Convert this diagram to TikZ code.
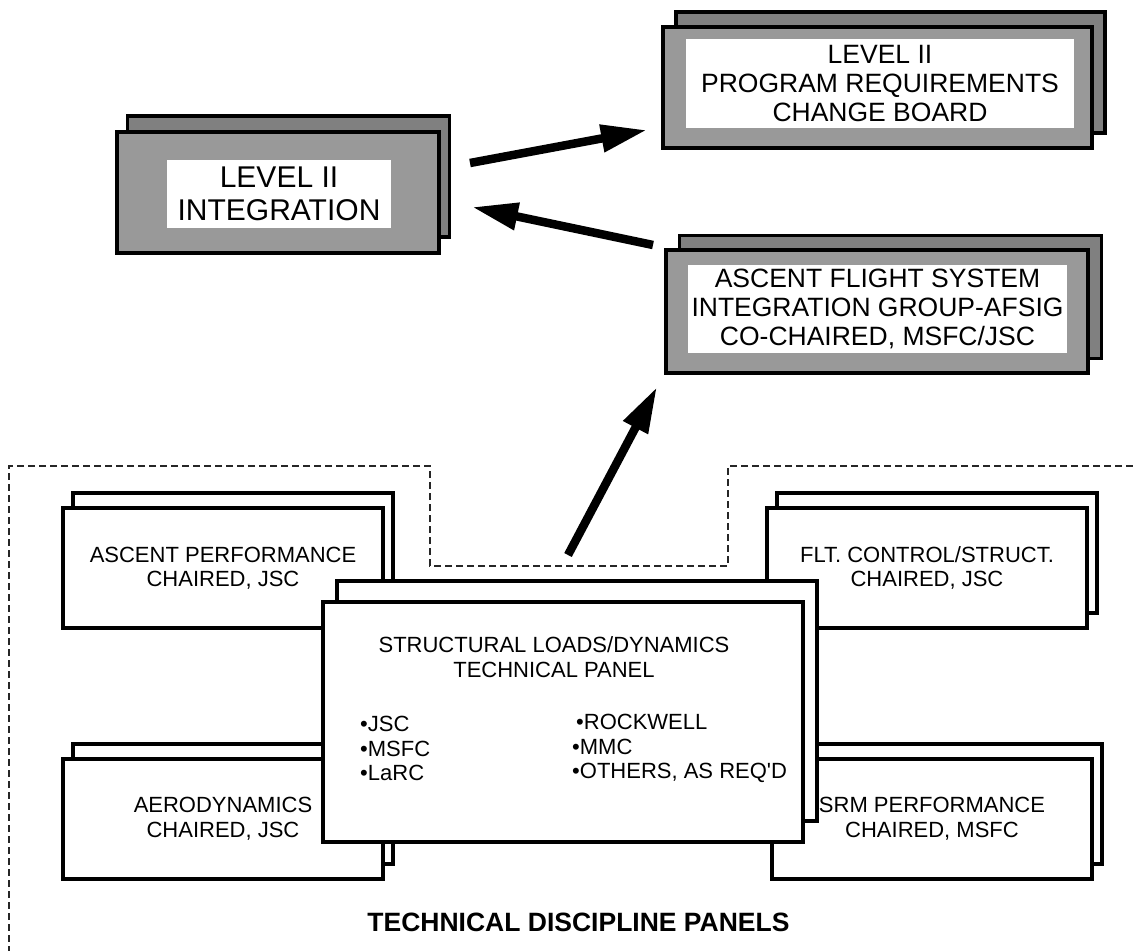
\documentclass[tikz,border=0pt]{standalone}
\usepackage{fontspec}
\setmainfont{Liberation Sans}
\usetikzlibrary{arrows.meta}
\definecolor{facegray}{gray}{0.6}
\definecolor{backgray}{gray}{0.5}
\tikzset{
  board/.style={draw,line width=3.5pt,fill=facegray,inner sep=0pt},
  boardback/.style={board,fill=backgray},
  boardlabel/.style={fill=white,inner sep=0pt,align=center},
  panel/.style={draw,line width=4pt,fill=white,inner sep=0pt,align=center,
    minimum width=320pt,minimum height=120pt,font=\fontsize{22}{24.5}\selectfont},
  flow/.style={line width=8.5pt,-{Triangle[length=46pt,width=26pt]}}
}
\begin{document}
\begin{tikzpicture}[x=1pt,y=-1pt]
\useasboundingbox (0,0) rectangle (1133,951);
\draw[black!85,line width=1.2pt,dash pattern=on 7pt off 4pt]
  (1133,466) -- (728,466) -- (728,566) -- (430,566) -- (430,466) -- (9,466) -- (9,951);
% level II boards
\node[boardback,minimum width=322pt,minimum height=121pt] (integ-back) at (288.5,176.5) {};
\node[board,minimum width=322pt,minimum height=121pt] (integ) at (278,192.5) {};
\node[boardlabel,minimum width=224pt,minimum height=68pt,font=\fontsize{30}{32.5}\selectfont]
  (integ-label) at (279,194) {LEVEL II\\INTEGRATION};
\node[boardback,minimum width=429pt,minimum height=121pt] (prcb-back) at (890.5,72.5) {};
\node[board,minimum width=429pt,minimum height=121pt] (prcb) at (877.5,87.5) {};
\node[boardlabel,minimum width=388pt,minimum height=89pt,font=\fontsize{26.5}{29}\selectfont]
  (prcb-label) at (880,83.5) {LEVEL II\\PROGRAM REQUIREMENTS\\CHANGE BOARD};
\node[boardback,minimum width=422pt,minimum height=123pt] (afsig-back) at (890.5,297) {};
\node[board,minimum width=422pt,minimum height=123pt] (afsig) at (877,311.5) {};
\node[boardlabel,minimum width=379pt,minimum height=88pt,font=\fontsize{26.5}{29}\selectfont]
  (afsig-label) at (877.5,309) {ASCENT FLIGHT SYSTEM\\INTEGRATION GROUP-AFSIG\\CO-CHAIRED, MSFC/JSC};
% discipline panels
\foreach \name/\cx/\cy/\txt in {
  ascent/223/568/{ASCENT PERFORMANCE\\CHAIRED, JSC},
  flt/927/568/{FLT. CONTROL/STRUCT.\\CHAIRED, JSC},
  aero/223/818.5/{AERODYNAMICS\\CHAIRED, JSC},
  srm/932/818.5/{SRM PERFORMANCE\\CHAIRED, MSFC}}{
  \node[panel] (\name-back) at (\cx+10,\cy-15) {};
  \node[panel] (\name) at (\cx,\cy) {\txt};
}
\node[panel,minimum width=480pt,minimum height=240pt] (struct-back) at (577,701) {};
\node[panel,minimum width=480pt,minimum height=240pt] (struct) at (563,722) {};
\node[align=center,font=\fontsize{22}{25}\selectfont] (struct-title) at (554,657.5)
  {STRUCTURAL LOADS/DYNAMICS\\TECHNICAL PANEL};
\node[anchor=west,align=left,inner sep=0pt,font=\fontsize{22}{24.5}\selectfont] (struct-centers)
  at (360,748.5) {•JSC\\•MSFC\\•LaRC};
\node[anchor=west,align=left,inner sep=0pt,font=\fontsize{22}{24.5}\selectfont] (struct-firms)
  at (572,748.5) {\hspace*{4pt}•ROCKWELL\\•MMC\\•OTHERS, AS REQ\textquotesingle D};
\node[font=\bfseries\fontsize{26.5}{28}\selectfont] (panels-title) at (578.5,922)
  {TECHNICAL DISCIPLINE PANELS};
% flow arrows
\coordinate (toprcb-tail) at (470,163);
\coordinate (toprcb-tip) at (647,130);
\coordinate (tointeg-tail) at (653,245);
\coordinate (tointeg-tip) at (472,207);
\coordinate (toafsig-tail) at (568,555);
\coordinate (toafsig-tip) at (657,387);
\draw[flow] (toprcb-tail) -- (toprcb-tip);
\draw[flow] (tointeg-tail) -- (tointeg-tip);
\draw[flow] (toafsig-tail) -- (toafsig-tip);
\end{tikzpicture}
\end{document}
